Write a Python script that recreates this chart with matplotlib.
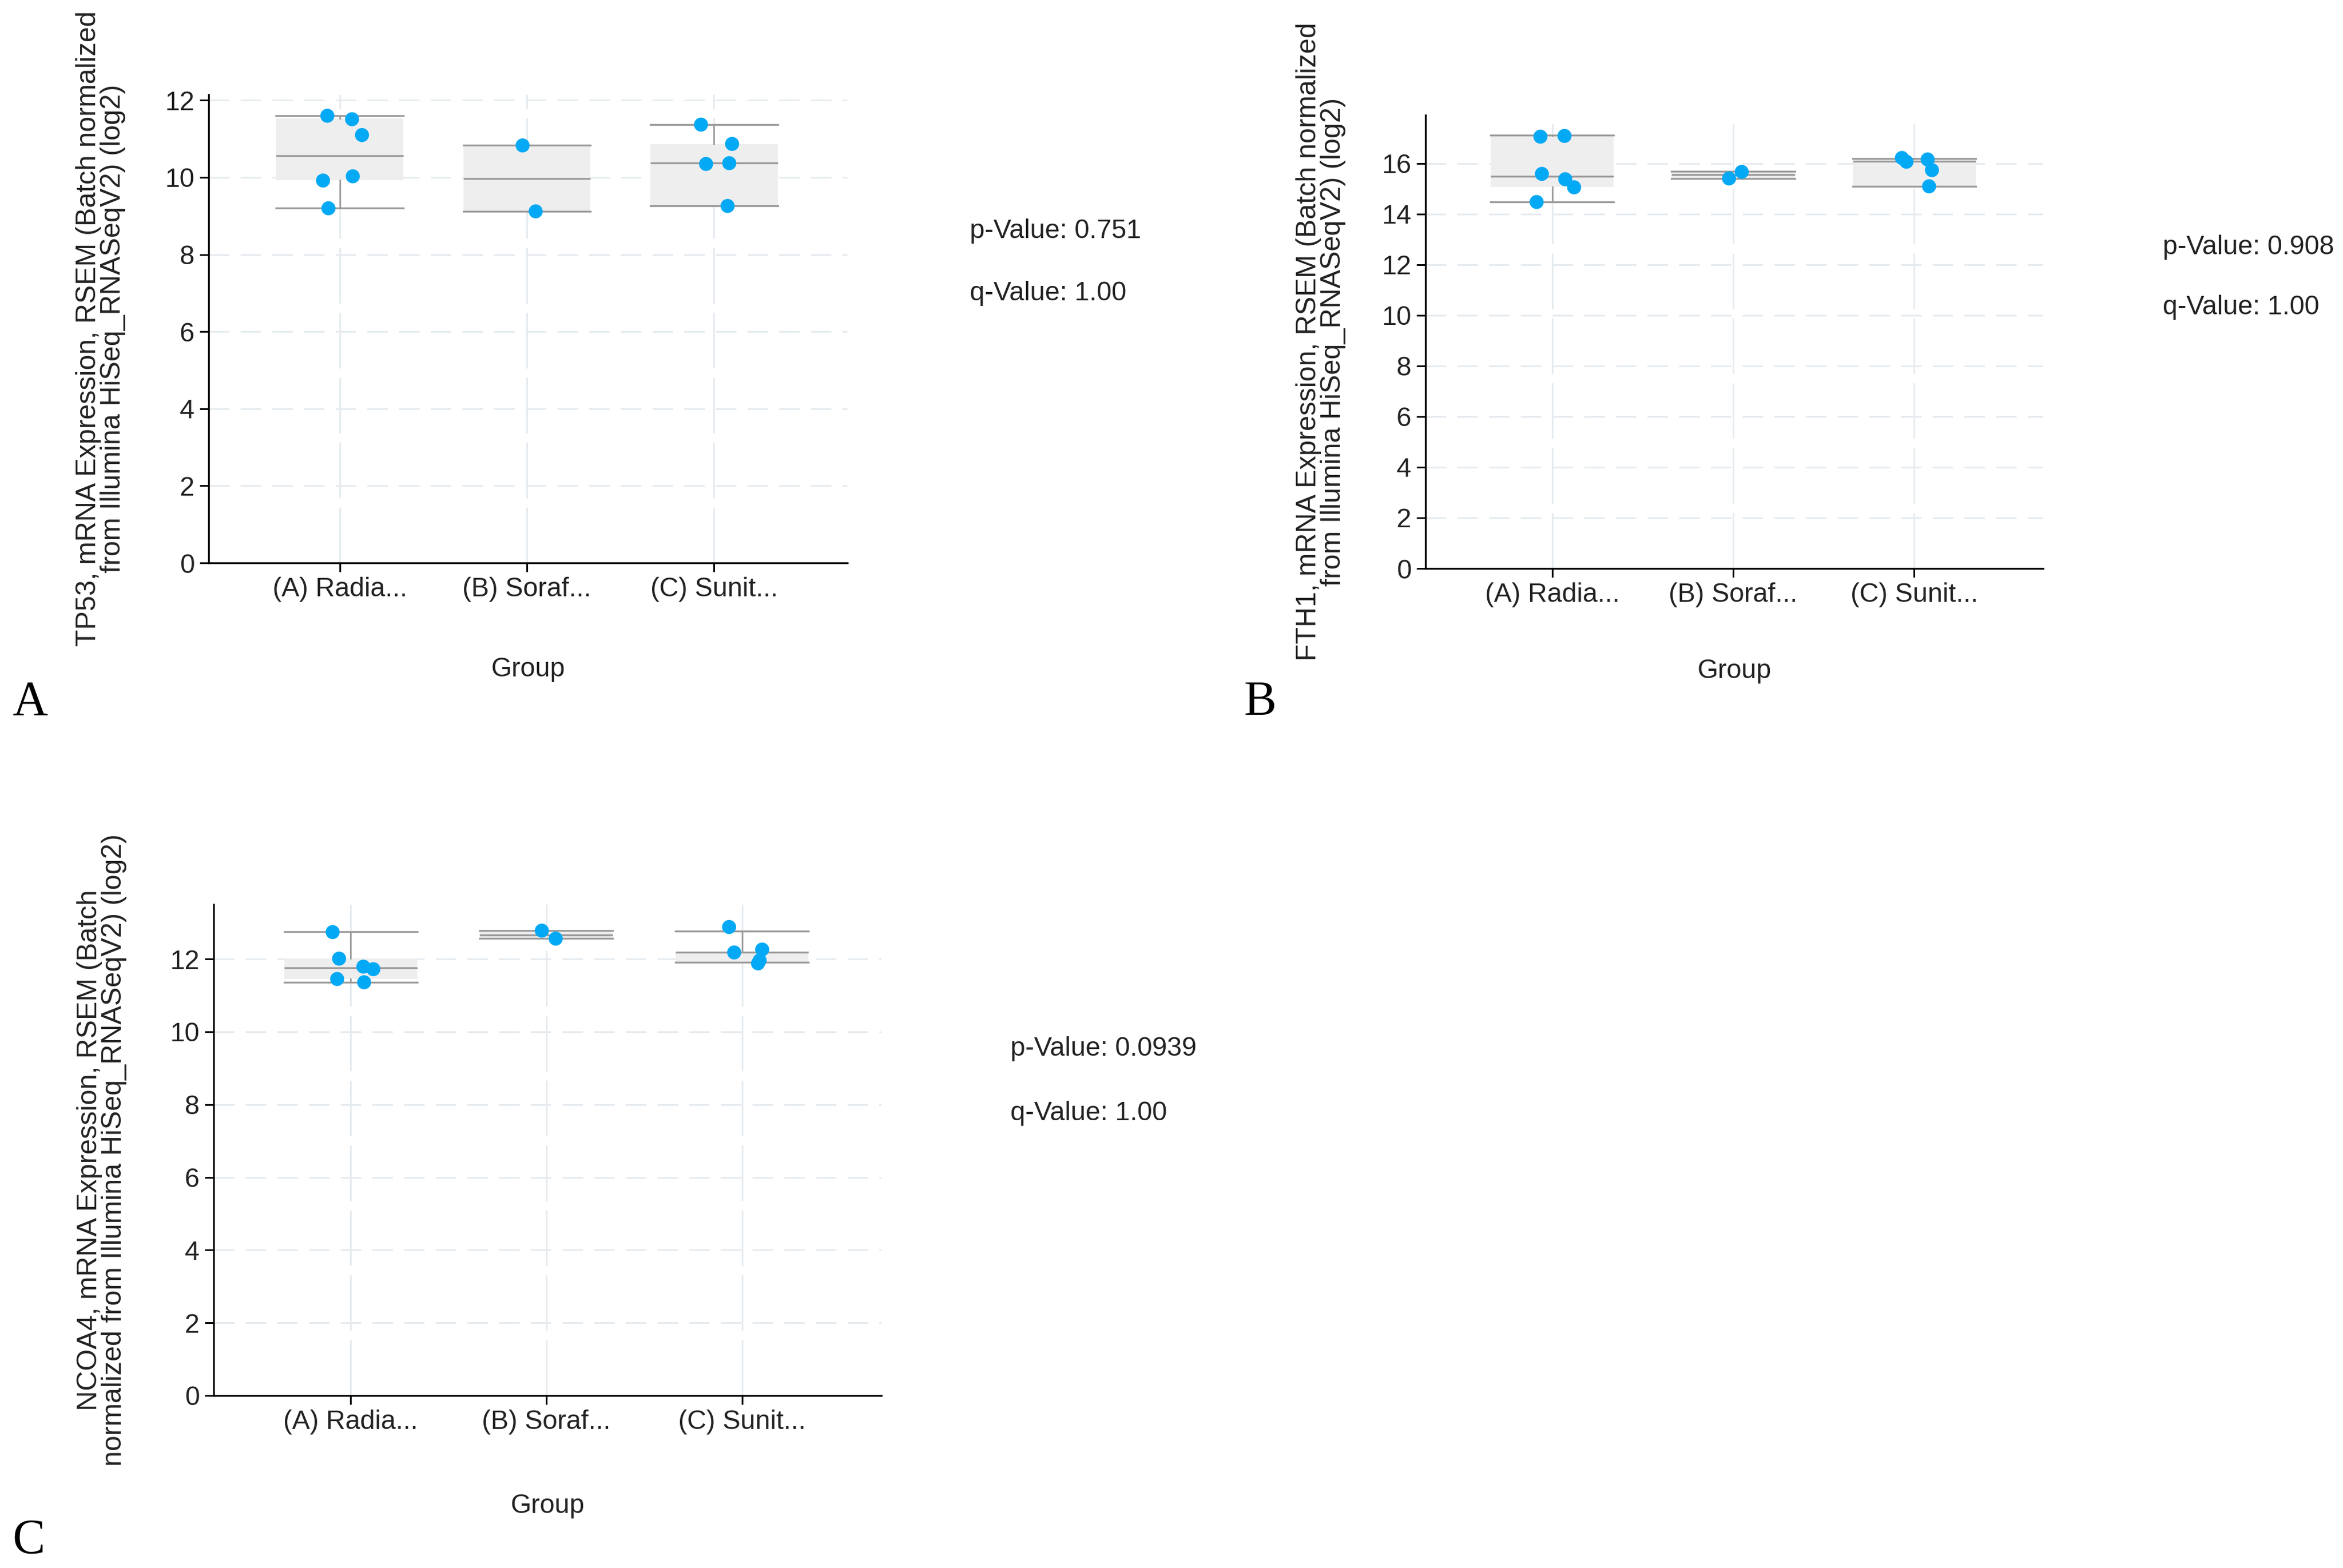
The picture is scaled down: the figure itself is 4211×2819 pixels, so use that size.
import matplotlib
matplotlib.use("Agg")
import matplotlib.pyplot as plt

# ---------------- data ----------------
groups = ["(A) Radia...", "(B) Soraf...", "(C) Sunit..."]

# Panel A: TP53
tp53_a = [11.60, 11.51, 11.10, 9.92, 10.03, 9.20]
tp53_b = [10.83, 9.12]
tp53_c = [11.37, 10.87, 10.35, 10.37, 9.26]
tp53_jit_a = [-0.066, 0.066, 0.119, -0.089, 0.070, -0.060]
tp53_jit_b = [-0.023, 0.047]
tp53_jit_c = [-0.070, 0.096, -0.043, 0.081, 0.072]
tp53_whislo = [9.20, 9.12, 9.26]
tp53_q1 = [9.93, 9.12, 9.26]
tp53_med = [10.56, 9.97, 10.37]
tp53_q3 = [11.53, 10.83, 10.87]
tp53_whishi = [11.60, 10.83, 11.37]

# Panel B: FTH1
fth1_a = [17.05, 17.08, 15.58, 15.37, 15.05, 14.47]
fth1_b = [15.66, 15.40]
fth1_c = [16.21, 16.06, 16.15, 15.73, 15.09]
fth1_jit_a = [-0.065, 0.068, -0.057, 0.072, 0.121, -0.086]
fth1_jit_b = [0.047, -0.023]
fth1_jit_c = [-0.068, -0.043, 0.074, 0.098, 0.082]
fth1_whislo = [14.47, 15.40, 15.09]
fth1_q1 = [15.07, 15.40, 15.09]
fth1_med = [15.49, 15.55, 16.08]
fth1_q3 = [17.08, 15.68, 16.16]
fth1_whishi = [17.10, 15.68, 16.18]

# Panel C: NCOA4
ncoa4_a = [12.74, 12.01, 11.79, 11.72, 11.45, 11.36]
ncoa4_b = [12.78, 12.56]
ncoa4_c = [12.88, 12.18, 12.26, 11.96, 11.88]
ncoa4_jit_a = [-0.092, -0.059, 0.065, 0.116, -0.069, 0.069]
ncoa4_jit_b = [-0.023, 0.048]
ncoa4_jit_c = [-0.066, -0.040, 0.103, 0.090, 0.082]
ncoa4_whislo = [11.36, 12.56, 11.91]
ncoa4_q1 = [11.45, 12.56, 11.91]
ncoa4_med = [11.755, 12.66, 12.18]
ncoa4_q3 = [12.01, 12.78, 12.19]
ncoa4_whishi = [12.745, 12.78, 12.77]

p_values = ["p-Value: 0.751", "p-Value: 0.908", "p-Value: 0.0939"]
q_values = ["q-Value: 1.00", "q-Value: 1.00", "q-Value: 1.00"]
ylabels = [
    "TP53, mRNA Expression, RSEM (Batch normalized\nfrom Illumina HiSeq_RNASeqV2) (log2)",
    "FTH1, mRNA Expression, RSEM (Batch normalized\nfrom Illumina HiSeq_RNASeqV2) (log2)",
    "NCOA4, mRNA Expression, RSEM (Batch\nnormalized from Illumina HiSeq_RNASeqV2) (log2)",
]
panel_letters = ["A", "B", "C"]
yticks_list = [[0, 2, 4, 6, 8, 10, 12],
               [0, 2, 4, 6, 8, 10, 12, 14, 16],
               [0, 2, 4, 6, 8, 10, 12]]
ytop_list = [12.15, 17.9, 13.5]

# ---------------- layout (pixels) ----------------
W, H = 4211, 2819
plt.rcParams["font.family"] = ["Liberation Sans", "DejaVu Sans"]
plt.rcParams["lines.scale_dashes"] = False

fig = plt.figure(figsize=(W / 100, H / 100), dpi=100)
fig.patch.set_facecolor("white")

# axes boxes: left, right, top, bottom (px)
ax_px = [(375, 1523, 170, 1012),
         (2562, 3672, 207, 1022),
         (384, 1584, 1626, 2509)]
ylabel_x_px = [181, 2374, 183]
group_y_px = [1203, 1206, 2707]
pq_px = [(1743, 428, 540), (3887, 457, 565), (1816, 1898, 2014)]
letter_px = [(22, 1285), (2235, 1285), (22, 2792)]

panels = [
    ([tp53_a, tp53_b, tp53_c], [tp53_jit_a, tp53_jit_b, tp53_jit_c],
     tp53_whislo, tp53_q1, tp53_med, tp53_q3, tp53_whishi),
    ([fth1_a, fth1_b, fth1_c], [fth1_jit_a, fth1_jit_b, fth1_jit_c],
     fth1_whislo, fth1_q1, fth1_med, fth1_q3, fth1_whishi),
    ([ncoa4_a, ncoa4_b, ncoa4_c], [ncoa4_jit_a, ncoa4_jit_b, ncoa4_jit_c],
     ncoa4_whislo, ncoa4_q1, ncoa4_med, ncoa4_q3, ncoa4_whishi),
]

FS = 34.5
FS_YLAB = 36
LINE_GRAY = "#9a9a9a"
BOX_FILL = "#eeeeee"
DOT = "#03a9f4"
GRID = "#e6ebef"
TXT = "#222222"
BW = 0.68

for i, (pts, jit, wlo, q1, med, q3, whi) in enumerate(panels):
    l, r, t, b = ax_px[i]
    ax = fig.add_axes([l / W, 1 - b / H, (r - l) / W, (b - t) / H])
    ax.set_xlim(-0.70, 2.712)
    ax.set_ylim(0, ytop_list[i])

    stats = []
    for k in range(3):
        stats.append(dict(med=med[k], q1=q1[k], q3=q3[k],
                          whislo=wlo[k], whishi=whi[k], fliers=[]))
    ax.bxp(stats, positions=[0, 1, 2], widths=BW, capwidths=BW,
           patch_artist=True, showfliers=False,
           boxprops=dict(facecolor=BOX_FILL, edgecolor="none", linewidth=0),
           medianprops=dict(color=LINE_GRAY, linewidth=2.4),
           whiskerprops=dict(color=LINE_GRAY, linewidth=2.0),
           capprops=dict(color=LINE_GRAY, linewidth=2.4),
           zorder=2)

    for k in range(3):
        xs = [k + o for o in jit[k]]
        ax.scatter(xs, pts[k], s=330, color=DOT, edgecolors="none", zorder=4)

    ax.set_xticks([0, 1, 2])
    ax.set_xticklabels(groups)
    ax.set_yticks(yticks_list[i])

    ax.set_axisbelow(True)
    ax.yaxis.grid(True, color=GRID, linewidth=2.2, linestyle=(0, (26.6, 14.4)))
    ax.xaxis.grid(True, color=GRID, linewidth=2.2, linestyle=(0, (72, 12)))

    for s in ["top", "right"]:
        ax.spines[s].set_visible(False)
    for s in ["left", "bottom"]:
        ax.spines[s].set_linewidth(2.4)
        ax.spines[s].set_color("black")

    ax.tick_params(axis="both", direction="out", length=11.5, width=2.2,
                   color="black", labelsize=FS, labelcolor=TXT)
    ax.tick_params(axis="y", pad=7)
    ax.tick_params(axis="x", pad=6.5)

    ax.set_ylabel(ylabels[i], fontsize=FS_YLAB, color=TXT, linespacing=0.92,
                  ha="center", va="center", multialignment="center")
    ax.yaxis.set_label_coords((ylabel_x_px[i] - l) / (r - l), 0.5)

    ax.set_xlabel("Group", fontsize=FS, color=TXT, va="center")
    ax.xaxis.set_label_coords(0.5, -(group_y_px[i] - b) / (b - t))

    px, py, qy = pq_px[i]
    fig.text(px / W, 1 - py / H, p_values[i], fontsize=FS, color=TXT,
             ha="left", va="baseline")
    fig.text(px / W, 1 - qy / H, q_values[i], fontsize=FS, color=TXT,
             ha="left", va="baseline")

    lx, ly = letter_px[i]
    fig.text(lx / W, 1 - ly / H, panel_letters[i], fontsize=63,
             family=["Liberation Serif", "DejaVu Serif"], color="black",
             ha="left", va="baseline")

fig.savefig("out.png", dpi=100, facecolor="white")
